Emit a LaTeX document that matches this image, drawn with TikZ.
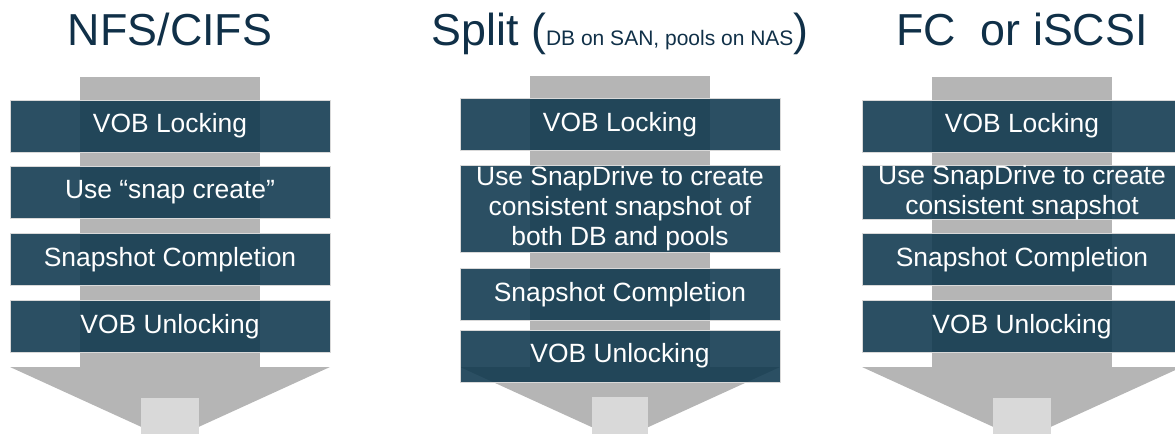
\documentclass[tikz,border=0pt]{standalone}
\usepackage{xcolor}
\usepackage{fontspec}
\setmainfont{Liberation Sans}

\definecolor{boxblue}{RGB}{14,55,77}
\definecolor{titleblue}{RGB}{16,48,72}
\definecolor{shaftgray}{RGB}{181,181,181}
\definecolor{tipgray}{RGB}{217,217,217}

\tikzset{
    stepbox/.style={fill=boxblue, fill opacity=0.88, text opacity=1, text=white,
        draw=black!15, line width=0.4pt, minimum width=160pt, minimum height=26pt,
        inner sep=0pt, align=center, font=\fontsize{13.2}{15}\selectfont},
    heading/.style={text=titleblue, anchor=base, inner sep=0pt,
        font=\fontsize{22.4}{26}\selectfont}
}

\begin{document}
\begin{tikzpicture}[x=0.5pt,y=-0.5pt]
    \useasboundingbox (0,0) rectangle (1175,434);

    % gray arrows behind the steps
    \fill[shaftgray] (80,77) rectangle (260,367);
    \fill[shaftgray] (10,367) -- (330,367) -- (170,440) -- cycle;
    \fill[shaftgray] (530,76) rectangle (710,367);
    \fill[shaftgray] (460,367) -- (780,367) -- (620,440) -- cycle;
    \fill[shaftgray] (932,77) rectangle (1112,367);
    \fill[shaftgray] (862,367) -- (1182,367) -- (1022,440) -- cycle;

    % titles
    \node[heading] (nfsTitle) at (170,45) {NFS/CIFS};
    \node[heading] (splitTitle) at (620,45) {Split ({\fontsize{10.5}{12}\selectfont DB on SAN, pools on NAS})};
    \node[heading] (fcTitle) at (1022,45) {FC\ \ or iSCSI};

    % NFS/CIFS steps
    \node[stepbox] (nfsLock) at (170,126) {VOB Locking};
    \node[stepbox] (nfsSnap) at (170,192.5) {Use “snap create”};
    \node[stepbox] (nfsDone) at (170,259.5) {Snapshot Completion};
    \node[stepbox] (nfsUnlock) at (170,326.5) {VOB Unlocking};

    % Split steps
    \node[stepbox] (splitLock) at (620,124.5) {VOB Locking};
    \node[stepbox, minimum height=43.5pt] (splitSnap) at (620,208.5)
        {Use SnapDrive to create\\consistent snapshot of\\both DB and pools};
    \node[stepbox] (splitDone) at (620,294.5) {Snapshot Completion};
    \node[stepbox] (splitUnlock) at (620,356) {VOB Unlocking};

    % FC or iSCSI steps
    \node[stepbox] (fcLock) at (1022,126) {VOB Locking};
    \node[stepbox] (fcSnap) at (1022,192.5) {Use SnapDrive to create\\consistent snapshot};
    \node[stepbox] (fcDone) at (1022,259.5) {Snapshot Completion};
    \node[stepbox] (fcUnlock) at (1022,326.5) {VOB Unlocking};

    % light tips
    \fill[tipgray] (141,398) rectangle (199,440);
    \fill[tipgray] (592,397) rectangle (648,440);
    \fill[tipgray] (993,398) rectangle (1051,440);
\end{tikzpicture}
\end{document}
